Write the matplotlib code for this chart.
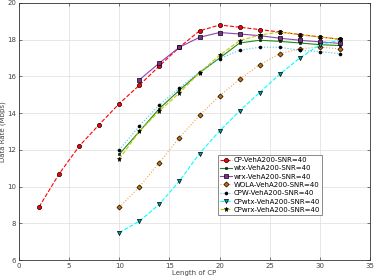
import matplotlib
matplotlib.use("Agg")
import matplotlib.pyplot as plt

x_cp = [2, 4, 6, 8, 10, 12, 14, 16, 18, 20, 22, 24, 26, 28, 30, 32]
cp = [8.89, 10.69, 12.2, 13.38, 14.52, 15.52, 16.57, 17.59, 18.48, 18.8, 18.68, 18.55, 18.42, 18.28, 18.15, 18.02]

x_wrx = [12, 14, 16, 18, 20, 22, 24, 26, 28, 30, 32]
wrx = [15.81, 16.73, 17.59, 18.13, 18.39, 18.31, 18.22, 18.08, 17.97, 17.88, 17.8]

x_rest = [10, 12, 14, 16, 18, 20, 22, 24, 26, 28, 30, 32]
wtx = [11.76, 13.0, 14.25, 15.25, 16.2, 17.0, 17.82, 17.97, 17.91, 17.82, 17.73, 17.68]
wola = [8.87, 9.98, 11.31, 12.67, 13.88, 14.94, 15.84, 16.63, 17.24, 17.5, 17.6, 17.5]
cpw = [12.0, 13.3, 14.45, 15.37, 16.25, 16.97, 17.42, 17.59, 17.59, 17.42, 17.35, 17.24]
cpwtx = [7.49, 8.11, 9.04, 10.3, 11.8, 13.03, 14.12, 15.12, 16.12, 17.0, 17.73, 17.97]
cpwrx = [11.5, 13.0, 14.12, 15.1, 16.2, 17.15, 17.95, 18.25, 18.42, 18.26, 18.15, 18.02]

labels = ["CP-VehA200-SNR=40", "wtx-VehA200-SNR=40", "wrx-VehA200-SNR=40",
          "WOLA-VehA200-SNR=40", "CPW-VehA200-SNR=40", "CPwtx-VehA200-SNR=40",
          "CPwrx-VehA200-SNR=40"]

fig = plt.figure(figsize=(3.74, 2.80), dpi=100)
ax = fig.add_axes([0.0508, 0.0714, 0.9385, 0.918])

lw = 0.8
ms = 3
ax.plot(x_cp, cp, '--', color='#ff0000', lw=lw, marker='o', ms=ms, mfc='#ff0000', mec='black', mew=0.5, label=labels[0])
ax.plot(x_rest, wtx, '-', color='#1a8a1a', lw=lw, marker='s', ms=2, mfc='#222222', mec='black', mew=0.4, label=labels[1])
ax.plot(x_wrx, wrx, '-', color='#8e44ad', lw=lw, marker='s', ms=ms, mfc='#7e2f8e', mec='black', mew=0.5, label=labels[2])
ax.plot(x_rest, wola, ':', color='#f5a04a', lw=lw, marker='D', ms=2.6, mfc='#c87000', mec='black', mew=0.5, label=labels[3])
ax.plot(x_rest, cpw, ':', color='#4dbeee', lw=lw, marker='o', ms=2.2, mfc='black', mec='black', mew=0.4, label=labels[4])
ax.plot(x_rest, cpwtx, '--', color='#00ffff', lw=lw, marker='v', ms=ms, mfc='#00a0a0', mec='black', mew=0.5, label=labels[5])
ax.plot(x_rest, cpwrx, '--', color='#c8c800', lw=lw, marker='*', ms=3.6, mfc='black', mec='black', mew=0.4, label=labels[6])

ax.set_xlim(0, 35)
ax.set_ylim(6, 20)
ax.set_xticks(range(0, 36, 5))
ax.set_yticks(range(6, 21, 2))
ax.tick_params(direction='in', labelsize=5, length=2, width=0.5, colors='#444444', top=True, right=True, pad=2)
ax.grid(True, color='#dddddd', lw=0.5)
ax.set_axisbelow(True)
for s in ax.spines.values():
    s.set_linewidth(0.6)
    s.set_color('#333333')

ax.set_xlabel("Length of CP", fontsize=5, color='#444444', labelpad=1)
ax.set_ylabel("Data Rate (Mbps)", fontsize=5, color='#444444', labelpad=1)

leg = ax.legend(loc='upper left', bbox_to_anchor=(0.567, 0.41), fontsize=5, frameon=True,
                fancybox=False, edgecolor='#333333', handlelength=1.7, handletextpad=0.2,
                labelspacing=0.33, borderpad=0.35, borderaxespad=0)
leg.get_frame().set_linewidth(0.5)

fig.savefig("out.png", dpi=100)
